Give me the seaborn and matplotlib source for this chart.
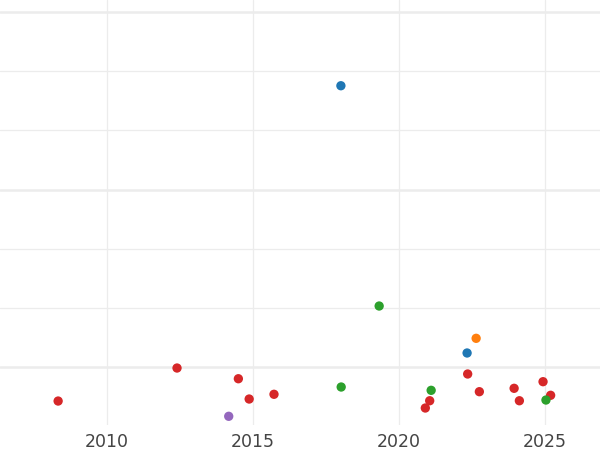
import numpy as np
import pandas as pd
import matplotlib
matplotlib.use("Agg")
import matplotlib.pyplot as plt
from matplotlib.ticker import FixedLocator
import seaborn as sns

# data
years = [2008.33, 2012.40, 2014.50, 2014.87, 2015.72, 2014.17, 2019.32, 2018.02,
         2022.64, 2022.33, 2022.35, 2021.10, 2021.05, 2020.90, 2022.75, 2023.94,
         2024.12, 2024.93, 2025.19, 2025.03, 2018.01]
values = [24.25, 29.83, 28.02, 24.59, 25.39, 21.67, 40.31, 26.62,
          34.85, 32.37, 28.82, 26.06, 24.30, 23.07, 25.83, 26.40,
          24.30, 27.52, 25.22, 24.42, 77.54]
groups = ['D', 'D', 'D', 'D', 'D', 'E', 'C', 'C',
          'B', 'A', 'D', 'C', 'D', 'D', 'D', 'D',
          'D', 'D', 'D', 'C', 'A']

palette = {'A': '#1f77b4', 'B': '#ff7f0e', 'C': '#2ca02c', 'D': '#d62728', 'E': '#9467bd'}

df = pd.DataFrame({'year': years, 'value': values, 'group': groups})

sns.set_theme(style="white")
plt.rcParams['font.family'] = ['DejaVu Sans']

fig = plt.figure(figsize=(6, 4.5), dpi=100)
ax = fig.add_axes([0, 25 / 450, 1, 425 / 450])

sns.scatterplot(data=df, x='year', y='value', hue='group', palette=palette,
                s=45, linewidth=0, legend=False, ax=ax, zorder=3)

ax.set_xlim(2006.34, 2026.88)
ax.set_ylim(20.2, 92.03)

# thin grid at 2010/2015, heavier at 2020/2025
ax.xaxis.set_major_locator(FixedLocator([2010, 2015, 2020, 2025]))
ax.xaxis.set_minor_locator(FixedLocator([2020, 2025]))
ax.yaxis.set_major_locator(FixedLocator([30, 60, 90]))
ax.yaxis.set_minor_locator(FixedLocator([40, 50, 70, 80]))

ax.grid(which='major', axis='x', color='#ececec', linewidth=0.9)
ax.grid(which='minor', axis='x', color='#ececec', linewidth=1.8)
ax.grid(which='major', axis='y', color='#ececec', linewidth=1.8)
ax.grid(which='minor', axis='y', color='#ececec', linewidth=0.9)
ax.set_axisbelow(True)

ax.tick_params(axis='x', which='both', length=0, labelsize=12.5, labelcolor='#444444', pad=6)
ax.tick_params(axis='y', which='both', length=0, labelleft=False)
ax.set_xlabel('')
ax.set_ylabel('')
for s in ax.spines.values():
    s.set_visible(False)

fig.savefig('out.png', dpi=100)
